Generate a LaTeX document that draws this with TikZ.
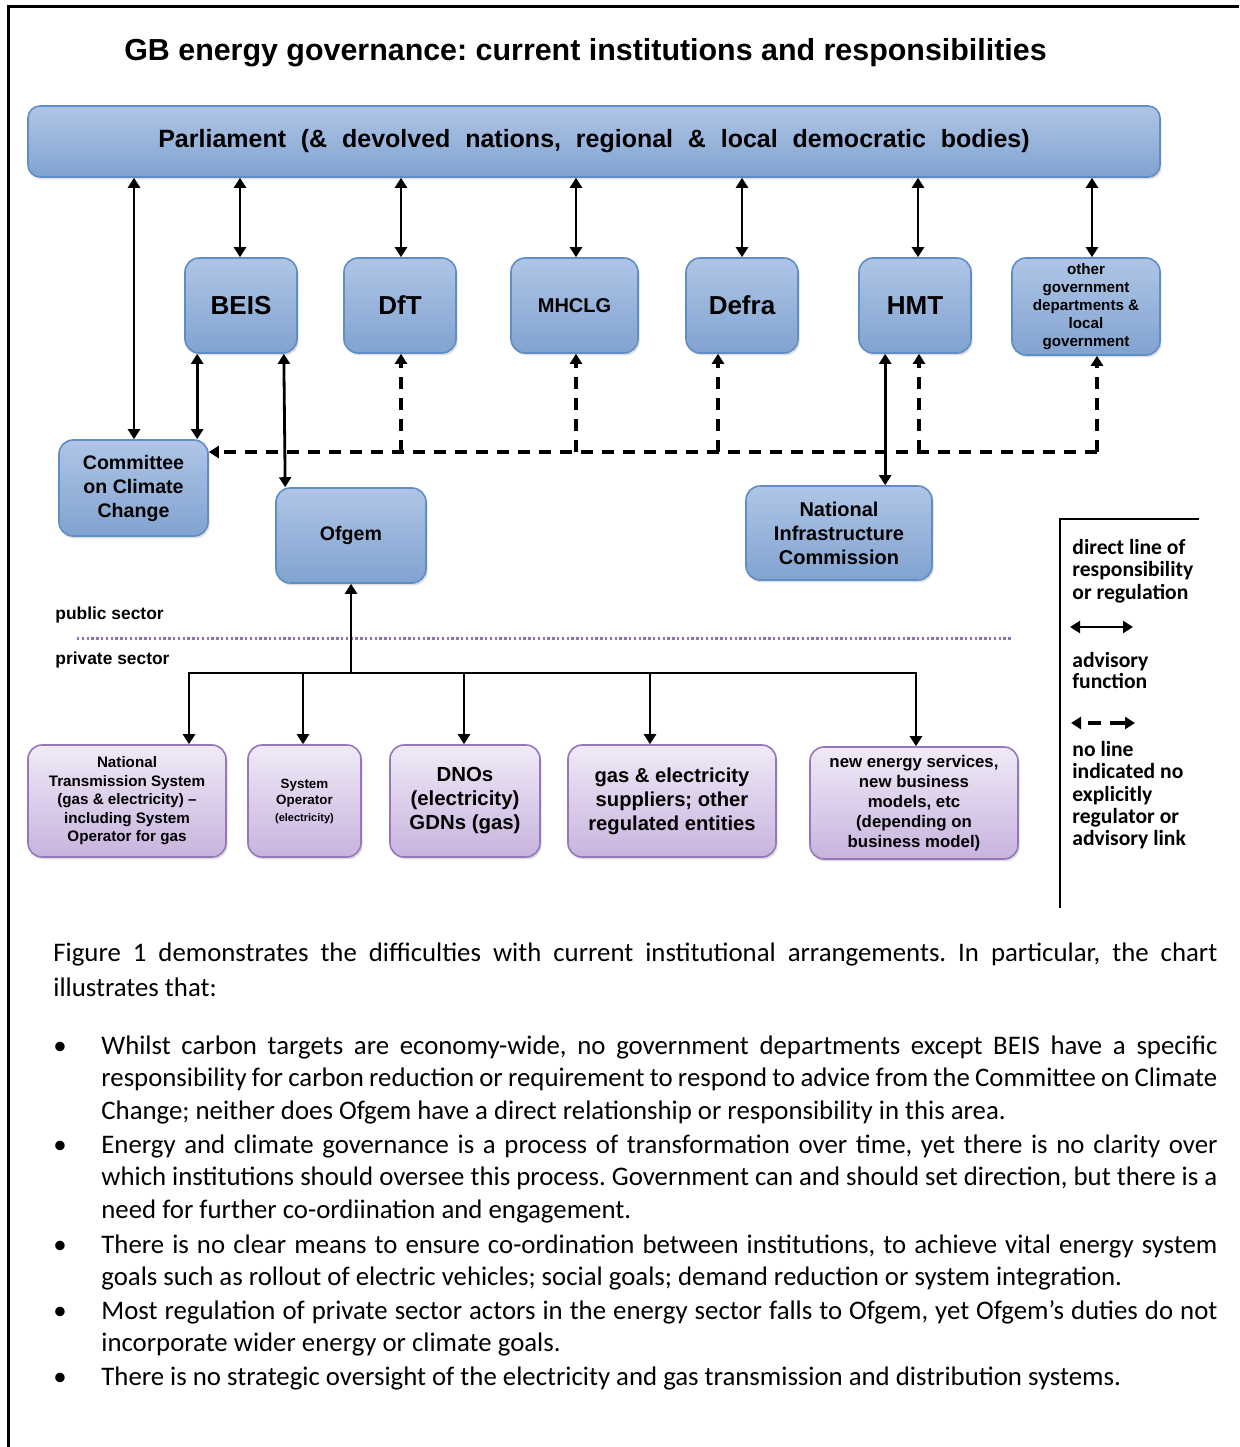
\documentclass[tikz,border=0pt]{standalone}
\usepackage{fontspec}
\setmainfont{Carlito}
\newfontfamily\arialfont{Liberation Sans}
\usetikzlibrary{arrows.meta,calc,shadows}

\definecolor{govtop}{HTML}{AFC5E6}
\definecolor{govbot}{HTML}{81A3D0}
\definecolor{govline}{HTML}{5F8DC8}
\definecolor{privtop}{HTML}{F0EAF7}
\definecolor{privbot}{HTML}{C8B3DE}
\definecolor{privline}{HTML}{9677BC}
\definecolor{sectorline}{HTML}{8A6FB4}

\newcommand\apx[2]{\fontsize{#1}{#2}\selectfont}
\frenchspacing

\tikzset{
  govbox/.style={draw=govline, line width=0.8pt, rounded corners=7pt,
    top color=govtop, bottom color=govbot, align=center, inner sep=1pt,
    font=\arialfont\bfseries,
    drop shadow={opacity=0.25, shadow xshift=0.8pt, shadow yshift=-1.2pt}},
  privbox/.style={draw=privline, line width=0.8pt, rounded corners=7pt,
    top color=privtop, bottom color=privbot, align=center, inner sep=1pt,
    font=\arialfont\bfseries,
    drop shadow={opacity=0.25, shadow xshift=0.8pt, shadow yshift=-1.2pt}},
  tip/.tip={Triangle[width=6pt,length=5pt]},
  link/.style={line width=1.4pt, tip-tip},
  feed/.style={line width=1.4pt, -tip},
  wire/.style={line width=1.4pt},
  advise/.style={line width=1.6pt, dash pattern=on 6pt off 4.5pt, -tip},
  keytext/.style={font=\bfseries\apx{10.8}{12}, anchor=base west, inner sep=0pt},
  sector/.style={font=\arialfont\bfseries\apx{8.7}{10}, anchor=base west, inner sep=0pt},
  bodytext/.style={font=\apx{13.4}{16.3}, text width=558pt, align=justify,
    anchor=base west, inner sep=0pt},
  dot/.style={font=\apx{13.4}{16.3}, anchor=base, inner sep=0pt},
}

\begin{document}
\begin{tikzpicture}[x=0.5pt,y=-0.5pt]
\useasboundingbox (0,0) rectangle (1239,1447);

% frame
\draw[line width=1.5pt] (8,1447) -- (8,6) -- (1239,6);

\node[font=\arialfont\bfseries\apx{15.2}{18}] (title) at (585.5,53)
  {GB energy governance: current institutions and responsibilities};

% top level
\node[govbox, rounded corners=6pt, minimum width=566pt, minimum height=35.5pt,
  font=\arialfont\bfseries\apx{12.5}{14}] (parl) at (594,141.5)
  {\spaceskip=7.4pt Parliament (\& devolved nations, regional \& local democratic bodies)};

% departments
\node[govbox, minimum width=56pt, minimum height=47.5pt, font=\arialfont\bfseries\apx{13}{15}] (beis) at (241,305.5) {BEIS};
\node[govbox, minimum width=56pt, minimum height=47.5pt, font=\arialfont\bfseries\apx{13}{15}] (dft) at (400,305.5) {DfT};
\node[govbox, minimum width=63.5pt, minimum height=47.5pt, font=\arialfont\bfseries\apx{10}{12}] (mhclg) at (574.5,305.5) {MHCLG};
\node[govbox, minimum width=56pt, minimum height=47.5pt, font=\arialfont\bfseries\apx{13}{15}] (defra) at (742,305.5) {Defra};
\node[govbox, minimum width=56pt, minimum height=47.5pt, font=\arialfont\bfseries\apx{13}{15}] (hmt) at (915,305.5) {HMT};
\node[govbox, minimum width=74pt, minimum height=48.5pt, font=\arialfont\bfseries\apx{7.6}{9}] (other) at (1086,306.5)
  {other\\government\\departments \&\\local\\government};

\node[govbox, minimum width=74.5pt, minimum height=48pt, font=\arialfont\bfseries\apx{9.8}{12}] (ccc) at (133.5,488)
  {Committee\\on Climate\\Change};
\node[govbox, minimum width=75pt, minimum height=47.5pt, font=\arialfont\bfseries\apx{9.8}{12}] (ofgem) at (351,535.5) {Ofgem};
\node[govbox, minimum width=93pt, minimum height=47pt, font=\arialfont\bfseries\apx{10}{12}] (nic) at (839,533)
  {National\\Infrastructure\\Commission};

% private sector
\node[privbox, minimum width=99pt, minimum height=56pt, font=\arialfont\bfseries\apx{7.6}{9.25}] (nts) at (127,801)
  {National\\Transmission System\\(gas \& electricity) –\\including System\\Operator for gas};
\node[privbox, minimum width=56.5pt, minimum height=56pt, font=\arialfont\bfseries\apx{6.7}{8.25}] (so) at (304.5,801)
  {System\\Operator\\{\apx{5.5}{8.25}(electricity)}};
\node[privbox, minimum width=75pt, minimum height=56pt, font=\arialfont\bfseries\apx{10.2}{12}] (dno) at (465,801)
  {DNOs\\(electricity)\\GDNs (gas)};
\node[privbox, minimum width=104pt, minimum height=56pt, font=\arialfont\bfseries\apx{10.1}{12}] (gas) at (672,801)
  {gas \& electricity\\suppliers; other\\regulated entities};
\node[privbox, minimum width=104pt, minimum height=56pt, font=\arialfont\bfseries\apx{8.4}{10}] (neb) at (914,803)
  {new energy services,\\new business\\models, etc\\(depending on\\business model)};

% parliament links
\foreach \d/\dx in {ccc/0.5, beis/-1, dft/1, mhclg/1.5, defra/0, hmt/3, other/6}{
  \path ($(\d.north)+(\dx,0)$) coordinate (top\d);
  \draw[link] (parl.south -| top\d) -- (top\d);
}

% direct links below departments
\path ($(beis.south west)+(13,0)$) coordinate (bc);
\draw[link] (bc) -- (bc |- ccc.north);
\draw[link] ($(beis.south east)+(-14,0)$) -- ($(ofgem.north west)+(10,0)$);
\path ($(hmt.south west)+(27,0)$) coordinate (hn);
\draw[link] (hn) -- (hn |- nic.north);

% advisory links
\coordinate (advR) at (1097,452);
\draw[advise] (advR) -- (advR -| ccc.east);
\foreach \d/\dx in {dft/1, mhclg/1.5, defra/-24, hmt/4, other/11}{
  \path ($(\d.south)+(\dx,0)$) coordinate (bot\d);
  \draw[advise] (bot\d |- advR) -- (bot\d);
}

% public / private
\node[sector] (pub) at (55,619) {public sector};
\node[sector] (priv) at (55,664) {private sector};
\coordinate (sepL) at (77,638);
\coordinate (sepR) at (1012,638);
\draw[sectorline, line width=1.5pt, dash pattern=on 1.2pt off 1.2pt] (sepL) -- (sepR);

% regulation by ofgem
\coordinate (regbus) at (ofgem.south |- 0,673);
\foreach \p/\dx in {nts/62, so/-1.5, dno/-1, gas/-22, neb/2}{
  \path ($(\p.north)+(\dx,0)$) coordinate (in\p);
  \draw[feed] (in\p |- regbus) -- (in\p);
}
\draw[wire, line cap=rect] (innts |- regbus) -- (inneb |- regbus);
\draw[feed] (regbus) -- (ofgem.south);

% key
\coordinate (keyTR) at (1199,519);
\coordinate (keyT) at (1060,519);
\coordinate (keyB) at (1060,908);
\draw[line width=0.8pt] (keyTR) -- (keyT) -- (keyB);
\node[keytext] (k1a) at (1072,554) {direct line of};
\node[keytext] (k1b) at (1072,576.5) {responsibility};
\node[keytext] (k1c) at (1072,599) {or regulation};
\coordinate (keyAL) at (1070,627);
\coordinate (keyAR) at (1133,627);
\draw[link] (keyAL) -- (keyAR);
\node[keytext] (k2a) at (1072,667) {advisory};
\node[keytext] (k2b) at (1072,688) {function};
\coordinate (keyDL) at (1071,723);
\coordinate (keyDR) at (1135,723);
\draw[line width=1.6pt, tip-tip, dash pattern=on 0pt off 4pt on 6.5pt off 4.5pt on 8pt off 1pt] (keyDL) -- (keyDR);
\node[keytext] (k3a) at (1072,756) {no line};
\node[keytext] (k3b) at (1072,778) {indicated no};
\node[keytext] (k3c) at (1072,801) {explicitly};
\node[keytext] (k3d) at (1072,823) {regulator or};
\node[keytext] (k3e) at (1072,845) {advisory link};

% text below
\node[bodytext, text width=582pt, font=\apx{13.4}{17.5}] (intro) at (53,961)
  {Figure 1 demonstrates the difficulties with current institutional arrangements. In particular, the chart\linebreak
   illustrates that:};

\node[dot] (d1) at (60,1054) {•};
\node[bodytext] (p1) at (101,1054)
  {Whilst carbon targets are economy-wide, no government departments except BEIS have a specific\linebreak
   responsibility for carbon reduction or requirement to respond to advice from the Committee on Climate\linebreak
   Change; neither does Ofgem have a direct relationship or responsibility in this area.};
\node[dot] (d2) at (60,1153) {•};
\node[bodytext] (p2) at (101,1153)
  {Energy and climate governance is a process of transformation over time, yet there is no clarity over\linebreak
   which institutions should oversee this process. Government can and should set direction, but there is a\linebreak
   need for further co-ordiination and engagement.};
\node[dot] (d3) at (60,1253) {•};
\node[bodytext] (p3) at (101,1253)
  {There is no clear means to ensure co-ordination between institutions, to achieve vital energy system\linebreak
   goals such as rollout of electric vehicles; social goals; demand reduction or system integration.};
\node[dot] (d4) at (60,1319) {•};
\node[bodytext] (p4) at (101,1319)
  {Most regulation of private sector actors in the energy sector falls to Ofgem, yet Ofgem’s duties do not\linebreak
   incorporate wider energy or climate goals.};
\node[dot] (d5) at (60,1385) {•};
\node[bodytext] (p5) at (101,1385)
  {There is no strategic oversight of the electricity and gas transmission and distribution systems.};
\end{tikzpicture}
\end{document}
